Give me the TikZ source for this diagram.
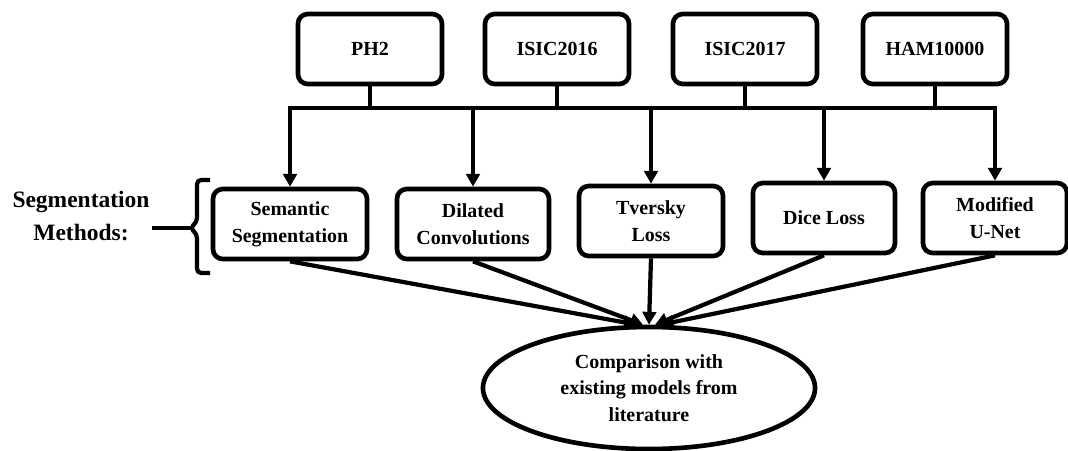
\documentclass[tikz,border=0pt]{standalone}
\usepackage{fontspec}
\setmainfont{Liberation Serif}
\usetikzlibrary{arrows.meta,shapes.geometric}

\begin{document}
\begin{tikzpicture}[x=0.025cm, y=-0.025cm,
  font=\bfseries\fontsize{14.2}{19}\selectfont,
  every node/.style = {align=center, line width=3.3pt},
  data/.style = {shape=rectangle, draw, rounded corners=7pt,
    minimum width=3.6cm, minimum height=1.75cm},
  method/.style = {data, minimum width=3.6cm},
  link/.style = {line width=3pt},
  arr/.style = {link, -{Triangle[length=0.32cm,width=0.34cm]}}]
  \useasboundingbox (0,0) rectangle (1068,450);
  \node[data] (ph2) at (370,49) {PH2};
  \node[data] (isic16) at (557,49) {ISIC2016};
  \node[data] (isic17) at (745,49) {ISIC2017};
  \node[data] (ham) at (935,49) {HAM10000};
  \coordinate (bus) at (0,108);
  \node[method, minimum width=3.85cm] (sem) at (290,224) {Semantic\\Segmentation};
  \node[method, minimum width=3.8cm] (dil) at (473,224) {Dilated\\Convolutions};
  \node[method] (tve) at (651,221) {Tversky\\Loss};
  \node[method, minimum width=3.55cm] (dice) at (824,218) {Dice Loss};
  \node[method] (mod) at (995,218) {Modified\\U-Net};
  \node[shape=ellipse, draw, inner sep=0, minimum width=8.3cm,
    minimum height=3.05cm] (comp) at (649,388)
    {Comparison with\\existing models from\\literature};
  \node[inner sep=0, font=\bfseries\fontsize{16.7}{22.8}\selectfont]
    (segm) at (81,216) {Segmentation\\Methods:};
  \coordinate (tip) at (190,228);
  \draw[link, rounded corners=3pt] (210,180) -- (197,180) -- (197,222)
    -- (tip) -- (197,234) -- (197,273) -- (210,273);
  \draw[link] (tip) -- (segm.east |- tip);
  \foreach \n in {ph2,isic16,isic17,ham}
    \draw[link] (\n.south) -- (\n.south |- bus);
  \draw[link, line cap=rect] (sem |- bus) -- (mod |- bus);
  \foreach \n in {sem,dil,tve,dice,mod}
    \draw[arr] (\n.north |- bus) -- (\n.north);
  \draw[arr] (sem.south) -- ([xshift=-0.3cm]comp.north);
  \draw[arr] (dil.south) -- ([xshift=-0.15cm]comp.north);
  \draw[arr] (tve.south) -- (comp.north);
  \draw[arr] (dice.south) -- ([xshift=0.15cm]comp.north);
  \draw[arr] (mod.south) -- ([xshift=0.3cm]comp.north);
\end{tikzpicture}
\end{document}
